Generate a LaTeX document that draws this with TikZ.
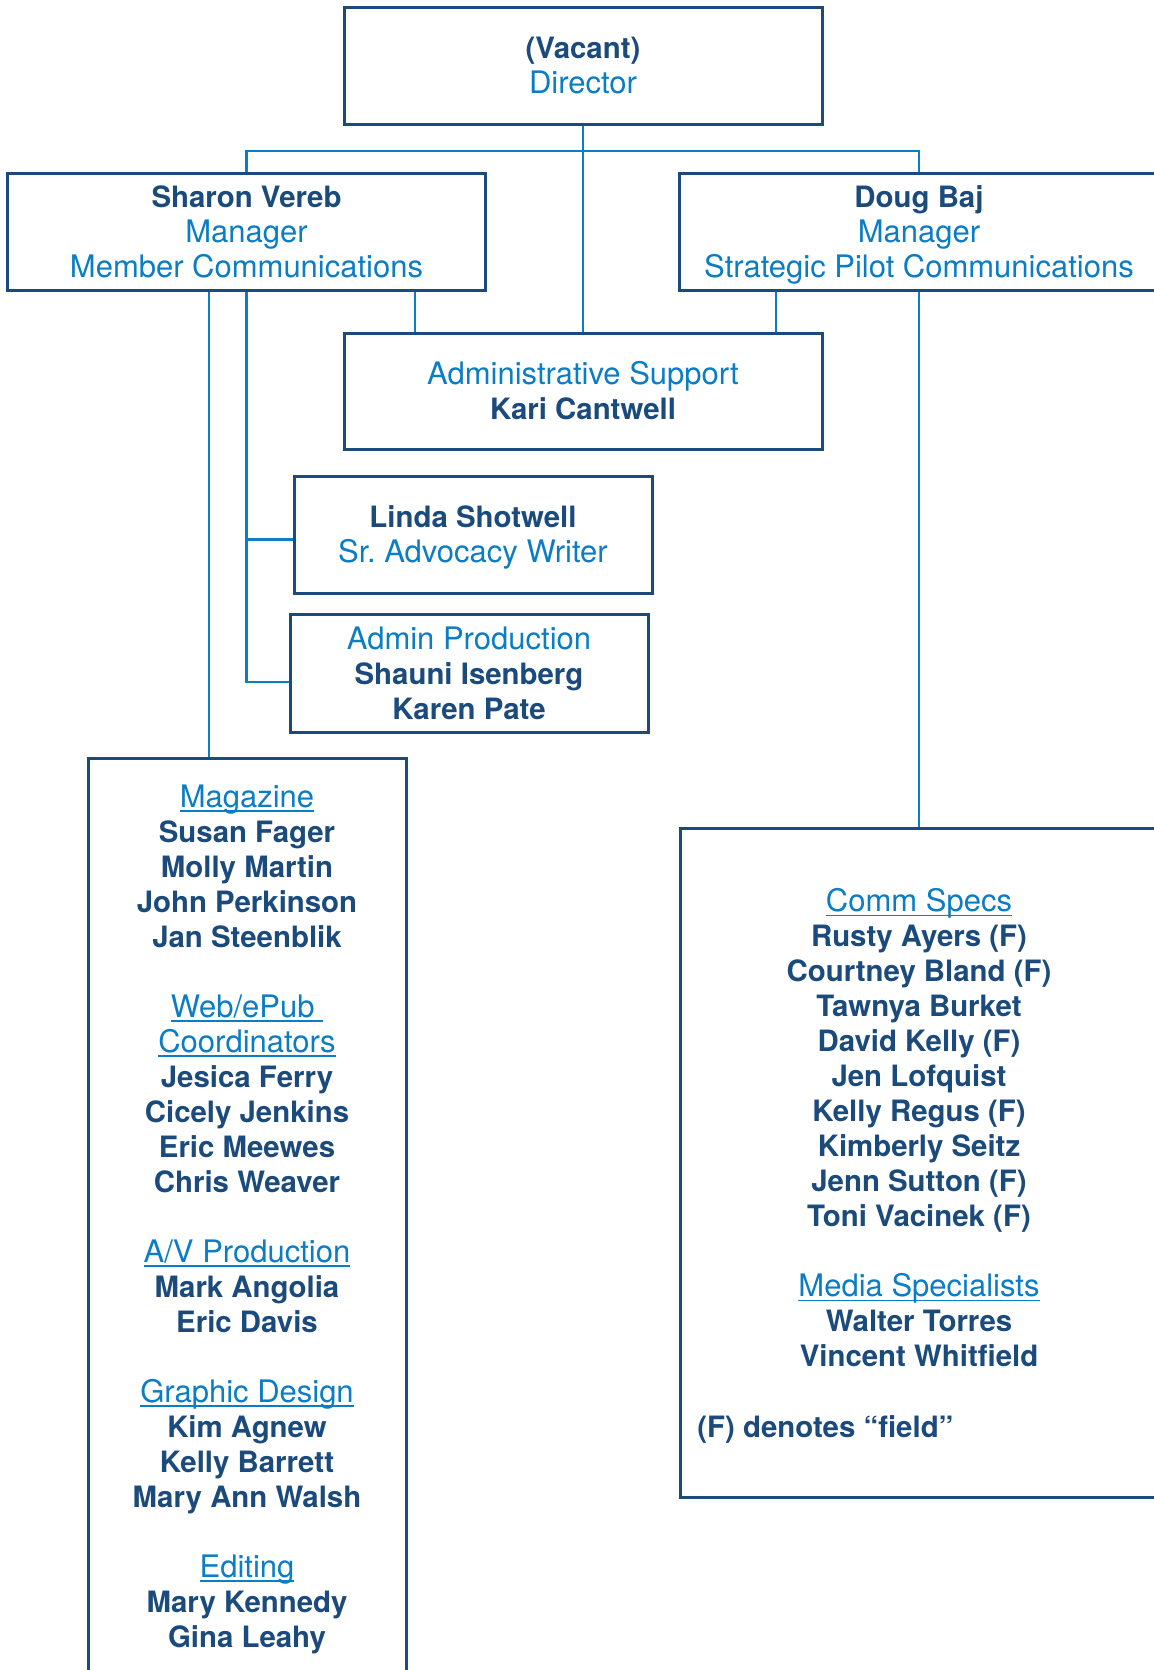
\documentclass[tikz,border=0pt]{standalone}
\usepackage{fontspec}
\setmainfont{TeX Gyre Heros}
\definecolor{navy}{RGB}{27,74,124}
\definecolor{sky}{RGB}{10,125,196}
\newcommand{\nm}[1]{\textcolor{navy}{\bfseries\fontsize{14.7}{17.5}\selectfont #1}}
\newcommand{\tl}[1]{\textcolor{sky}{#1}}
\newcommand{\tlflat}[1]{\raisebox{0pt}[\height][0pt]{\tl{#1}}}
\newcommand{\grp}[1]{\textcolor{sky}{\setbox0\hbox{#1}\rlap{\rule[-2.3pt]{\wd0}{0.7pt}}\box0}}

\begin{document}
\begin{tikzpicture}[x=0.5pt,y=-0.5pt,
    every node/.style={font=\fontsize{15.5}{17.5}\selectfont},
    box/.style={draw=navy,line width=1.5pt,minimum width=239pt,minimum height=58.5pt,align=center,inner sep=0pt},
    list/.style={align=center,inner sep=0pt,anchor=north},
    link/.style={sky,line width=1.2pt}]
    \useasboundingbox (0,0) rectangle (1154,1670);
    \fill[white] (0,0) rectangle (1154,1670);
    \clip (0,0) rectangle (1154,1670);
    % top of the chart
    \node[box] (director) at (583,65.5) {\nm{(Vacant)}\\\tl{Director}};
    \node[box] (sharon) at (246.5,231.5) {\nm{Sharon Vereb}\\\tl{Manager}\\\tl{Member Communications}};
    \node[box,minimum width=240pt] (doug) at (919,231.5) {\nm{Doug Baj}\\\tl{Manager}\\\tlflat{Strategic Pilot Communications}};
    \node[box,minimum height=58pt] (admin) at (583,391) {\tl{Administrative Support}\\\nm{Kari Cantwell}};
    \node[box,minimum width=179pt] (linda) at (473,534.5) {\nm{Linda Shotwell}\\\tlflat{Sr.\ Advocacy Writer}};
    \node[box,minimum width=179pt,minimum height=59pt] (adminprod) at (469,673) {\tl{Admin Production}\\\nm{Shauni Isenberg}\\\nm{Karen Pate}};
    % teams
    \node[box,anchor=north,minimum width=159pt,minimum height=470pt] (team1) at (247,757) {};
    \node[list] (team1list) at (247,784) {\grp{Magazine}\\\nm{Susan Fager}\\\nm{Molly Martin}\\\nm{John Perkinson}\\\nm{Jan Steenblik}\\[17.5pt]
      \grp{Web/ePub\ }\\\grp{Coordinators}\\\nm{Jesica Ferry}\\\nm{Cicely Jenkins}\\\nm{Eric Meewes}\\\nm{Chris Weaver}\\[17.5pt]
      \grp{A/V Production}\\\nm{Mark Angolia}\\\nm{Eric Davis}\\[17.5pt]
      \grp{Graphic Design}\\\nm{Kim Agnew}\\\nm{Kelly Barrett}\\\nm{Mary Ann Walsh}\\[17.5pt]
      \grp{Editing}\\\nm{Mary Kennedy}\\\nm{Gina Leahy}};
    \node[box,minimum height=334.5pt] (team2) at (919,1162.5) {};
    \node[list] (team2list) at (919,888) {\grp{Comm Specs}\\\nm{Rusty Ayers (F)}\\\nm{Courtney Bland (F)}\\\nm{Tawnya Burket}\\\nm{David Kelly (F)}\\\nm{Jen Lofquist}\\\nm{Kelly Regus (F)}\\\nm{Kimberly Seitz}\\\nm{Jenn Sutton (F)}\\\nm{Toni Vacinek (F)}\\[17.5pt]
      \grp{Media Specialists}\\\nm{Walter Torres}\\\nm{Vincent Whitfield}};
    \node[anchor=west,inner sep=0pt] (note) at (697,1429) {\nm{(F) denotes “field”}};
    % connectors
    \coordinate (bar) at (583,151);
    \draw[link] (sharon.north) |- (bar) -| (doug.north);
    \draw[link] (director.south) -- (admin.north);
    \coordinate (s1) at ([xshift=84.25pt]sharon.south);
    \draw[link] (s1) -- (s1 |- admin.north);
    \coordinate (d1) at ([xshift=-71.5pt]doug.south);
    \draw[link] (d1) -- (d1 |- admin.north);
    \draw[link] (sharon.south) |- ([yshift=-2.5pt]linda.west);
    \draw[link] (sharon.south) |- ([yshift=-4.5pt]adminprod.west);
    \coordinate (s2) at ([xshift=-18.75pt]sharon.south);
    \draw[link] (s2) -- (s2 |- team1.north);
    \draw[link] (doug.south) -- (team2.north);
\end{tikzpicture}
\end{document}
